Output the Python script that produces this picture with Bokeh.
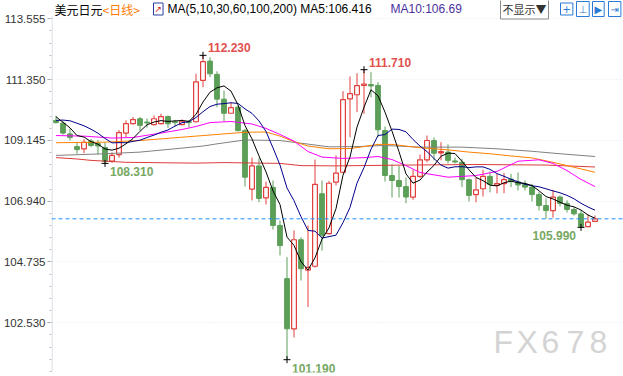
import numpy as np
from bokeh.plotting import figure
from bokeh.models import Label, FixedTicker, PrintfTickFormatter, Span
from bokeh.embed import file_html
from bokeh.resources import INLINE

# ---------------- data ----------------
opens = [109.87, 109.77, 109.38, 108.92, 108.84, 109.12, 109.03, 108.89, 108.39, 108.63,
         109.41, 109.75, 109.93, 109.81, 109.72, 109.75, 110.01, 109.82, 109.72, 109.82,
         109.82, 111.32, 112.02, 111.54, 110.64, 110.13, 110.35, 109.50, 107.38, 108.22,
         107.06, 107.44, 106.06, 104.13, 102.31, 105.54, 104.44, 104.58, 107.21, 105.76,
         107.63, 107.99, 110.65, 110.80, 111.14, 111.17, 111.14, 109.50, 107.87, 107.69,
         107.47, 107.09, 107.84, 108.44, 109.14, 108.69, 108.72, 108.40, 108.35, 107.72,
         107.18, 107.39, 107.84, 107.51, 107.58, 107.74, 107.64, 107.55, 107.45, 107.18,
         106.78, 106.60, 107.09, 106.86, 106.64, 106.48, 106.02, 106.21]
highs = [110.04, 109.84, 109.58, 109.08, 109.19, 109.20, 109.16, 109.07, 108.71, 109.52,
         109.87, 109.99, 109.99, 109.94, 110.05, 110.11, 110.05, 109.89, 109.91, 109.89,
         111.56, 112.23, 112.16, 111.65, 110.95, 110.53, 110.41, 109.57, 108.52, 108.51,
         107.65, 107.69, 106.24, 104.91, 105.88, 105.63, 106.06, 108.45, 107.69, 107.67,
         108.60, 110.93, 111.46, 111.58, 111.71, 111.62, 111.26, 109.65, 108.27, 108.23,
         107.80, 108.08, 108.63, 109.32, 109.25, 109.08, 109.00, 108.52, 108.48, 107.76,
         107.81, 108.08, 108.02, 107.93, 107.96, 107.93, 107.98, 107.69, 107.57, 107.27,
         107.04, 107.35, 107.15, 106.97, 106.72, 106.60, 106.46, 106.42]
lows = [109.75, 109.35, 109.14, 108.66, 108.68, 108.90, 108.63, 108.31, 108.33, 108.52,
        109.25, 109.72, 109.50, 109.61, 109.69, 109.72, 109.60, 109.65, 109.70, 109.62,
        109.79, 111.07, 111.44, 110.35, 109.83, 110.11, 109.47, 107.47, 106.97, 106.90,
        106.82, 105.91, 104.97, 101.19, 102.00, 104.06, 103.10, 104.53, 105.15, 105.73,
        107.51, 107.95, 109.26, 110.17, 110.11, 110.71, 109.26, 107.65, 107.07, 107.07,
        106.87, 106.99, 107.78, 108.35, 108.42, 108.42, 108.31, 108.31, 107.45, 106.93,
        106.90, 107.11, 107.26, 107.22, 107.23, 107.45, 107.33, 107.33, 106.93, 106.60,
        106.30, 106.34, 106.75, 106.53, 106.42, 105.99, 106.00, 106.18]
closes = [109.79, 109.41, 109.25, 108.81, 109.07, 108.96, 108.94, 108.38, 108.60, 109.43,
          109.75, 109.90, 109.69, 109.78, 109.93, 110.01, 109.75, 109.79, 109.84, 109.79,
          111.27, 112.00, 111.56, 110.64, 110.13, 110.33, 109.50, 107.81, 108.22, 107.04,
          107.44, 106.06, 105.33, 102.31, 105.54, 104.49, 104.54, 107.55, 105.70, 107.59,
          107.96, 110.62, 110.84, 111.13, 111.19, 111.12, 109.53, 107.87, 107.69, 107.47,
          107.09, 107.84, 108.44, 109.14, 108.68, 108.74, 108.42, 108.36, 107.72, 107.15,
          107.35, 107.84, 107.55, 107.58, 107.72, 107.65, 107.53, 107.45, 107.18, 106.78,
          106.60, 107.09, 106.86, 106.64, 106.48, 106.02, 106.18, 106.30]
# closes before the visible window (needed for the first MA5 / MA10 points)
pre_closes = [109.30, 109.50, 109.70, 110.00, 110.20, 110.41, 110.25, 110.21, 109.34]

ma30_idx = [0, 4, 8, 11, 15, 18, 20, 22, 25, 28, 30, 32, 34, 36, 38, 41, 44, 46, 48, 50,
            52, 56, 60, 63, 66, 69, 71, 73, 75, 77]
ma30_val = [109.32, 109.30, 109.23, 109.25, 109.41, 109.54, 109.65, 109.79, 109.83, 109.74,
            109.58, 109.36, 109.12, 108.74, 108.54, 108.49, 108.52, 108.56, 108.45, 108.23,
            107.98, 107.81, 107.87, 108.02, 108.39, 108.44, 108.31, 108.05, 107.73, 107.47]
ma60_idx = [0, 7, 12, 17, 20, 23, 27, 30, 32, 34, 36, 39, 42, 44, 46, 48, 52, 56, 59, 62,
            65, 68, 71, 74, 77]
ma60_val = [109.06, 109.08, 109.14, 109.24, 109.30, 109.36, 109.44, 109.45, 109.30, 109.10,
            108.94, 108.84, 108.85, 108.92, 109.00, 109.00, 108.88, 108.80, 108.72, 108.66,
            108.58, 108.51, 108.35, 108.17, 107.99]
ma100_idx = [0, 7, 12, 17, 21, 23, 27, 32, 36, 39, 43, 47, 52, 58, 63, 68, 72, 77]
ma100_val = [108.60, 108.66, 108.72, 108.84, 108.94, 109.02, 109.16, 109.14, 109.01, 108.91,
             108.92, 108.96, 108.90, 108.90, 108.84, 108.75, 108.66, 108.56]
ma200_idx = [0, 3, 5, 10, 20, 24, 32, 35, 40, 50, 60, 70, 77]
ma200_val = [108.52, 108.47, 108.42, 108.35, 108.32, 108.34, 108.31, 108.23, 108.22, 108.25,
             108.27, 108.25, 108.18]

y_ticks = [102.530, 104.735, 106.940, 109.145, 111.350, 113.555]
mark_idx = [21, 44, 7, 33, 75]
mark_kind = ["high", "high", "low", "low", "low"]

title_name = "美元日元"
title_period = "<日线>"
title_ma = "MA(5,10,30,60,100,200)  MA5:106.416"
title_ma10 = "MA10:106.69"

# ---------------- layout helpers (pixel -> data) ----------------
X0, DX = 55.5, 7.0
def sx(px):
    return (px - X0) / DX
def sy(py):
    return 113.555 - (py - 18.3) / 27.57

RED = "#e0403c"
GREEN = "#5c9f58"

n = len(closes)
idx = np.arange(n)
o = np.array(opens); h = np.array(highs); l = np.array(lows); c = np.array(closes)
up = c >= o
dn = ~up

p = figure(width=623, height=376, x_range=(sx(51), sx(623)), y_range=(sy(372), sy(0)),
           output_backend="svg", toolbar_location=None, x_axis_type=None,
           min_border_left=51, min_border_right=0, min_border_top=0, min_border_bottom=4)
p.outline_line_color = None
p.background_fill_color = "white"
p.border_fill_color = "white"

ax = p.yaxis[0]
minor = []
step = (y_ticks[1] - y_ticks[0]) / 5.0
v = y_ticks[0] - 5 * step
while v < y_ticks[-1] + 1e-6:
    minor.append(round(v, 4))
    v += step
ax.ticker = FixedTicker(ticks=y_ticks, minor_ticks=minor)
ax.formatter = PrintfTickFormatter(format="%.3f")
ax.axis_line_color = None
ax.major_tick_line_color = "#9ba5b0"
ax.major_tick_out = 4
ax.major_tick_in = 0
ax.minor_tick_line_color = "#b8c0c8"
ax.minor_tick_out = 2
ax.minor_tick_in = 0
ax.major_label_text_font = "Liberation Sans"
ax.major_label_text_font_size = "11.5px"
ax.major_label_text_color = "#333333"
ax.major_label_standoff = 2
p.ygrid.grid_line_color = "#edf0f3"
p.ygrid.grid_line_dash = "2 2"

# own axis line starting below the header row
p.segment([sx(51.5)], [sy(16)], [sx(51.5)], [sy(380)], line_color="#cfd6de", line_width=1)

# ---------------- candles ----------------
BW = 0.68
p.segment(idx[dn], l[dn], idx[dn], h[dn], line_color=GREEN, line_width=1)
p.vbar(x=idx[dn], top=o[dn], bottom=c[dn], width=BW, fill_color=GREEN, line_color=GREEN, line_width=1)
bt = np.maximum(o, c); bb = np.minimum(o, c)
p.segment(idx[up], bt[up], idx[up], h[up], line_color=RED, line_width=1)
p.segment(idx[up], l[up], idx[up], bb[up], line_color=RED, line_width=1)
p.vbar(x=idx[up], top=c[up], bottom=o[up], width=BW, fill_color="white", line_color=RED, line_width=1.2)

# ---------------- moving averages ----------------
allc = np.array(pre_closes + closes)
npre = len(pre_closes)
ma5 = np.array([allc[k + npre - 4:k + npre + 1].mean() for k in range(n)])
ma10 = np.array([allc[k + npre - 9:k + npre + 1].mean() for k in range(n)])

p.line(ma200_idx, ma200_val, line_color="#dc3c3c", line_width=1)
p.line(ma100_idx, ma100_val, line_color="#808080", line_width=1)
p.line(ma60_idx, ma60_val, line_color="#ff8000", line_width=1)
p.line(ma30_idx, ma30_val, line_color="#ff00ff", line_width=1)
p.line(idx, ma10, line_color="#00008b", line_width=1)
p.line(idx, ma5, line_color="#000000", line_width=1)

# last price line
p.add_layout(Span(location=closes[-1], dimension="width", line_color="#1e90ff",
                  line_dash="4 3", line_width=1))

# ---------------- extreme marks ----------------
mx, my = [], []
for i, kind in zip(mark_idx, mark_kind):
    val = highs[i] if kind == "high" else lows[i]
    mx.append(i); my.append(val)
    right = i > n - 8
    p.add_layout(Label(x=i, y=val, text=f"{val:.3f}",
                       x_offset=-5 if right else 5,
                       y_offset=7.5 if kind == "high" else -8.5,
                       text_align="right" if right else "left", text_baseline="middle",
                       text_font="Liberation Sans", text_font_style="bold",
                       text_font_size="12px",
                       text_color="#e3504f" if kind == "high" else "#76a863"))
p.scatter(mx, my, marker="cross", size=7, line_color="black", line_width=1)

# ---------------- watermark ----------------
for ch, px in zip("FX678", [493, 516, 541, 566, 589]):
    p.add_layout(Label(x=sx(px), y=sy(341), text=ch, text_baseline="middle",
                       text_font="Liberation Sans", text_font_size="32px",
                       text_color="#d4d4d4"))

# ---------------- header ----------------
hy = sy(8.5)
p.add_layout(Label(x=sx(54), y=hy, text=title_name, text_baseline="middle",
                   text_font="Noto Sans CJK SC", text_font_size="12px", text_color="#000000"))
p.add_layout(Label(x=sx(102), y=hy, text=title_period, text_baseline="middle",
                   text_font="Noto Sans CJK SC", text_font_size="12px", text_color="#ff7a00"))
p.add_layout(Label(x=sx(153), y=hy, text="↗", text_baseline="middle",
                   text_font="DejaVu Sans", text_font_size="9px", text_color="#cc2222",
                   border_line_color="#2a3f9f", background_fill_color="white", padding=1))
p.add_layout(Label(x=sx(167), y=hy, text=title_ma, text_baseline="middle",
                   text_font="Liberation Sans", text_font_size="12px", text_color="#000000"))
p.add_layout(Label(x=sx(390), y=hy, text=title_ma10, text_baseline="middle",
                   text_font="Liberation Sans", text_font_size="12px", text_color="#4b2f9e"))
p.add_layout(Label(x=sx(500), y=hy, text="不显示▼", text_baseline="middle",
                   text_font="Noto Sans CJK SC", text_font_size="11px", text_color="#333333",
                   border_line_color="#8a8a8a", background_fill_color="white", padding=2))
for sym, px in zip(["+", "⊥", "▶", "⇥"], [560, 576, 592, 608]):
    p.add_layout(Label(x=sx(px), y=hy, text=sym, text_baseline="middle",
                       text_font="DejaVu Sans", text_font_size="10px", text_color="#2b7bd6",
                       border_line_color="#2b7bd6", background_fill_color="white", padding=2))

open("out.html", "w").write(file_html(p, INLINE))
